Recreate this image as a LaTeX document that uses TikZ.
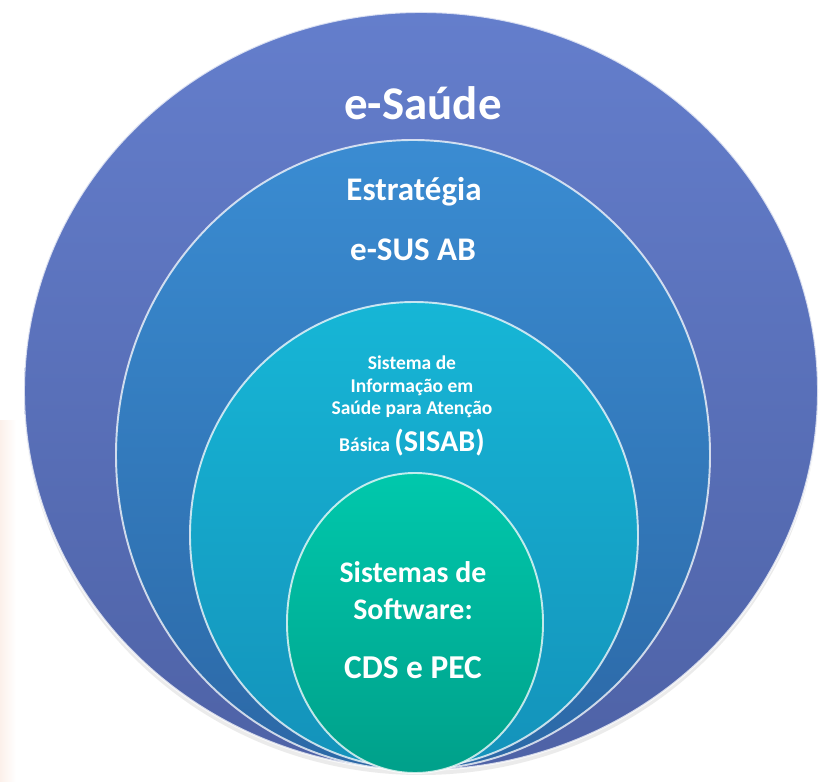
\documentclass[tikz,border=0pt]{standalone}
\usepackage{fontspec}
\setmainfont{Carlito}
\usetikzlibrary{calc}
\definecolor{ringA}{RGB}{100,126,204}
\definecolor{ringAd}{RGB}{78,98,166}
\definecolor{ringB}{RGB}{58,140,210}
\definecolor{ringBd}{RGB}{44,104,166}
\definecolor{ringC}{RGB}{22,182,214}
\definecolor{ringCd}{RGB}{20,146,186}
\definecolor{ringD}{RGB}{0,200,172}
\definecolor{ringDd}{RGB}{0,160,138}
\definecolor{blush}{RGB}{252,240,234}
\tikzset{
  rim/.style={draw=white,draw opacity=0.75,line width=1.1pt},
  lbl/.style={text=white,font=\bfseries,align=center,inner sep=0pt}
}

\begin{document}
\begin{tikzpicture}[x=0.02cm,y=0.02cm]
  \useasboundingbox (0,0) rectangle (821,781);
  \fill[left color=blush,right color=white] (0,0) rectangle (16,360);
  % soft shadow below the rings
  \fill[black,opacity=0.08] (421,385) ellipse [x radius=397,y radius=379];
  \shade[rim,top color=ringA,bottom color=ringAd] (421,390) ellipse [x radius=397,y radius=379];
  \shade[rim,top color=ringB,bottom color=ringBd] (413,326) ellipse [x radius=297,y radius=315];
  \shade[rim,top color=ringC,bottom color=ringCd] (414,246) ellipse [x radius=224,y radius=233];
  \shade[rim,top color=ringD,bottom color=ringDd] (415,158) ellipse [x radius=128,y radius=150];
  \node[lbl,font=\bfseries\fontsize{26.7}{30}\selectfont] (esaude) at (423,678) {e-Saúde};
  \node[lbl,font=\bfseries\fontsize{18.8}{22}\selectfont] (estrat) at (414,589) {Estratégia};
  \node[lbl,font=\bfseries\fontsize{18.8}{22}\selectfont] (esus) at (413,531) {e-SUS AB};
  \node[lbl,font=\bfseries\fontsize{11.1}{12.8}\selectfont] (sisinfo) at (412,394)
    {Sistema de\\Informação em\\Saúde para Atenção};
  \node[lbl,font=\bfseries\fontsize{11.1}{12.8}\selectfont] (sisab) at (412,338)
    {Básica \fontsize{17.2}{20}\selectfont(SISAB)};
  \node[lbl,font=\bfseries\fontsize{17}{21}\selectfont] (softw) at (413,190)
    {Sistemas de\\Software:};
  \node[lbl,font=\bfseries\fontsize{19}{22}\selectfont] (cdspec) at (413,113) {CDS e PEC};
\end{tikzpicture}
\end{document}
